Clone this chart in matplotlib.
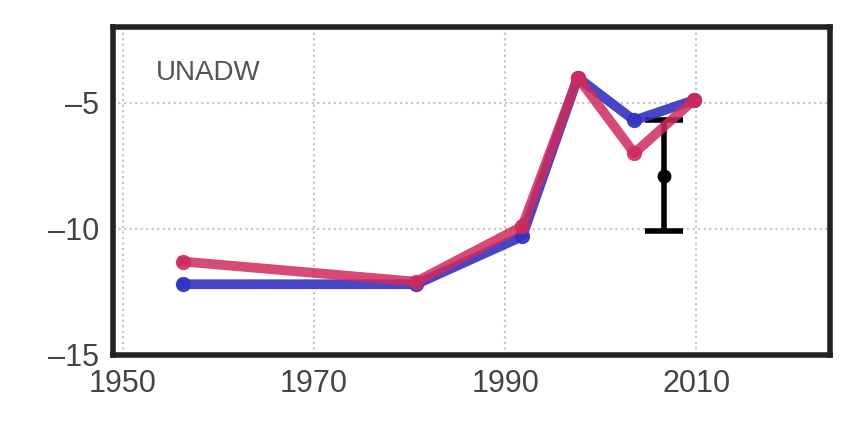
import matplotlib
matplotlib.use("Agg")
import matplotlib.pyplot as plt

# Decadal UNADW values for two reconstructions, plus one observed estimate
years_red = [1956.3, 1980.7, 1991.8, 1997.6, 2003.5, 2009.7]
values_red = [-11.3, -12.1, -9.9, -4.0, -7.0, -4.9]

years_blue = [1956.3, 1980.7, 1991.8, 1997.6, 2003.5, 2009.7]
values_blue = [-12.2, -12.2, -10.3, -4.0, -5.7, -4.9]

obs_year = [2006.6]
obs_value = [-7.9]
obs_err = [2.2]

xticks = [1950, 1970, 1990, 2010]
yticks = [-15, -10, -5]
ytick_labels = ["\u201315", "\u201310", "\u20135"]

plt.rcParams["font.family"] = ["Liberation Sans", "DejaVu Sans"]

fig = plt.figure(figsize=(8.43, 4.38), dpi=100)
ax = fig.add_axes([0.134, 0.19, 0.851, 0.748])

ax.errorbar(obs_year, obs_value, yerr=obs_err, fmt="o",
            color="black", ms=9, elinewidth=4, capsize=14, capthick=4,
            zorder=2)
ax.plot(years_blue, values_blue, color="#3232c0", lw=7, marker="o", ms=10,
        alpha=0.9, solid_joinstyle="round", zorder=3)
ax.plot(years_red, values_red, color="#d02a5c", lw=7, marker="o", ms=10,
        alpha=0.85, solid_joinstyle="round", zorder=4)

ax.set_xlim(1949, 2024)
ax.set_ylim(-15, -2)
ax.set_xticks(xticks)
ax.set_xticklabels([str(t) for t in xticks])
ax.set_yticks(yticks)
ax.set_yticklabels(ytick_labels)
ax.tick_params(labelsize=22, colors="#444444", length=0, pad=10)
ax.grid(True, linestyle=":", color="#c4c4c4", lw=1.5)

for s in ax.spines.values():
    s.set_linewidth(4)
    s.set_color("#222222")

ax.text(0.06, 0.86, "UNADW", transform=ax.transAxes, fontsize=20,
        color="#555555", ha="left", va="center")

fig.savefig("out.png", dpi=100)
